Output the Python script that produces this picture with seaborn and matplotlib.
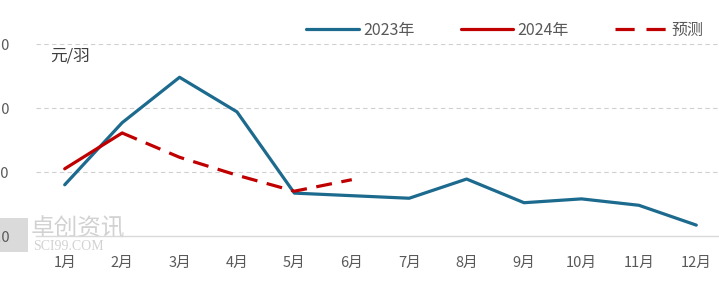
import numpy as np
import pandas as pd
import matplotlib
matplotlib.use("Agg")
import matplotlib.pyplot as plt
import seaborn as sns
from matplotlib.lines import Line2D
from matplotlib.patches import Rectangle

months = ["1月", "2月", "3月", "4月", "5月", "6月", "7月", "8月", "9月", "10月", "11月", "12月"]
y2023 = [0.80, 1.77, 2.48, 1.94, 0.67, 0.63, 0.59, 0.89, 0.52, 0.58, 0.48, 0.17]
y2024 = [1.05, 1.61]
forecast_months = ["2月", "3月", "4月", "5月", "6月"]
forecast = [1.61, 1.23, 0.95, 0.70, 0.88]
yticks = [0.0, 1.0, 2.0, 3.0]
unit = "元/羽"
labels = ["2023年", "2024年", "预测"]

sns.set_theme(style="white")
plt.rcParams["font.family"] = ["Noto Sans CJK SC", "DejaVu Sans"]

pos = {m: i for i, m in enumerate(months)}
d23 = pd.DataFrame({"x": [pos[m] for m in months], "v": y2023})
d24 = pd.DataFrame({"x": [pos[m] for m in months[:len(y2024)]], "v": y2024})
dfc = pd.DataFrame({"x": [pos[m] for m in forecast_months], "v": forecast})

W, H = 719, 281
fig = plt.figure(figsize=(W / 100, H / 100), dpi=100)
left, right, top, bottom = 36, 725, 44, 236
ax = fig.add_axes([left / W, 1 - bottom / H, (right - left) / W, (bottom - top) / H])
ax.patch.set_alpha(0)

blue = "#1c6a8e"
red = "#c00000"
lw = 2.3
dash = (5, 3)
sns.lineplot(data=d23, x="x", y="v", ax=ax, color=blue, linewidth=lw, legend=False)
sns.lineplot(data=dfc, x="x", y="v", ax=ax, color=red, linewidth=lw, legend=False)
ax.lines[-1].set_dashes(dash)
sns.lineplot(data=d24, x="x", y="v", ax=ax, color=red, linewidth=lw, legend=False)

ax.set_xlim(-0.5, len(months) - 0.5)
ax.set_ylim(yticks[0], yticks[-1])
ax.set_xticks(range(len(months)))
ax.set_xticklabels(months)
ax.set_yticks(yticks)
ax.set_yticklabels([f"{t:.1f}" for t in yticks])
ax.set_xlabel("")
ax.set_ylabel("")
ax.tick_params(axis="x", length=0, pad=14, labelsize=10.5, labelcolor="#595959")
ax.tick_params(axis="y", length=0, pad=19, labelsize=10.5, labelcolor="#595959")
for s in ["top", "right", "left"]:
    ax.spines[s].set_visible(False)
ax.spines["bottom"].set_color("#d9d9d9")
ax.spines["bottom"].set_linewidth(1.0)
ax.yaxis.grid(True, linestyle=(0, (4, 3)), color="#d0d0d0", linewidth=0.8)
ax.set_axisbelow(True)
for gl in ax.get_ygridlines()[:1]:
    gl.set_visible(False)

fig.text(50 / W, 1 - 56 / H, unit, fontsize=12, color="#404040", va="center", ha="left")

# watermark
fig.patches.append(Rectangle((0, 1 - 252 / H), 28 / W, 34 / H, transform=fig.transFigure,
                             facecolor="#dadada", edgecolor="none", zorder=-5))
fig.text(31 / W, 1 - 229 / H, "卓创资讯", fontsize=17, color="#d2d2d2", va="center", ha="left", zorder=-4)
fig.text(33 / W, 1 - 246 / H, "SCI99.COM", fontsize=10, color="#d2d2d2", va="center", ha="left",
         family=["Liberation Serif", "DejaVu Serif"], zorder=-4)

handles = [
    Line2D([], [], color=blue, linewidth=lw),
    Line2D([], [], color=red, linewidth=lw),
    Line2D([], [], color=red, linewidth=lw, dashes=(6, 3.7)),
]
leg = fig.legend(handles, labels, loc="center right", bbox_to_anchor=(718 / W, 1 - 30 / H),
                 ncol=3, frameon=False, fontsize=11.5, handlelength=3.3, handletextpad=0.25,
                 columnspacing=2.9, labelcolor="#595959")

fig.savefig("out.png", dpi=100)
